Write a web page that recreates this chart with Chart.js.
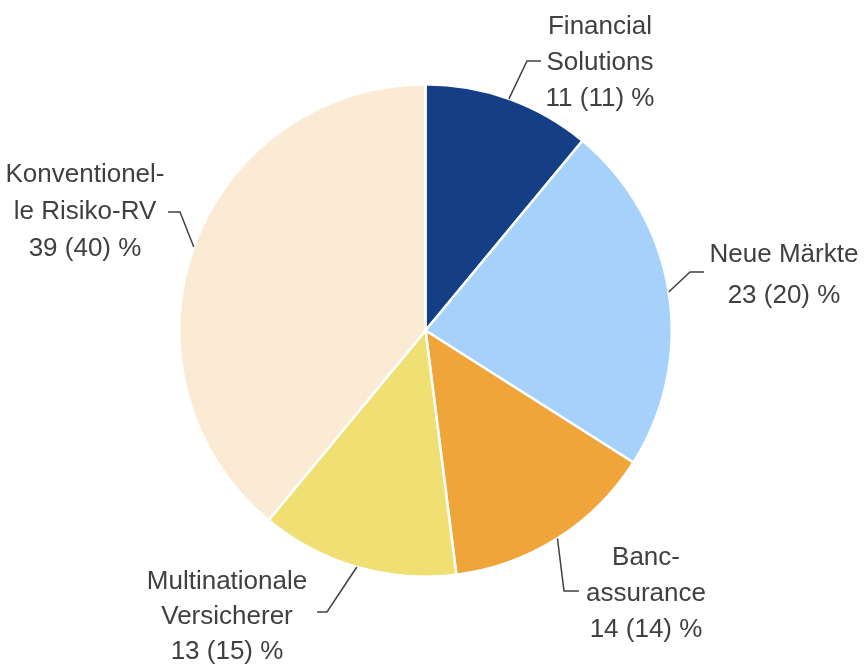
<!DOCTYPE html>
<html>
<head>
<meta charset="utf-8">
<script src="https://cdn.jsdelivr.net/npm/chart.js@4/dist/chart.umd.min.js"></script>
<style>
  html, body { margin: 0; padding: 0; background: #ffffff; }
  #wrap { width: 865px; height: 664px; }
</style>
</head>
<body>
<div id="wrap"><canvas id="pieChart" width="865" height="664"></canvas></div>
<script>
// data
const categories = ['Financial Solutions', 'Neue Märkte', 'Bancassurance', 'Multinationale Versicherer', 'Konventionelle Risiko-RV'];
const shares = [11, 23, 14, 13, 39];
const priorShares = [11, 20, 14, 15, 40];
const labelLines = [
    ['Financial', 'Solutions'],
    ['Neue Märkte'],
    ['Banc-', 'assurance'],
    ['Multinationale', 'Versicherer'],
    ['Konventionel-', 'le Risiko-RV']
];
const colors = ['#143f84', '#a6d1fb', '#f0a53a', '#f0df72', '#fbebd5'];

// label layout: kink of the leader, end of horizontal, text centre x, first line y, line step
const labelLayout = [
    { kx: 527, ky: 61, ex: 541, tx: 600, ty: 27, step: 36 },
    { kx: 690, ky: 272, ex: 704, tx: 784, ty: 255, step: 41 },
    { kx: 564, ky: 591, ex: 579, tx: 646, ty: 558, step: 36 },
    { kx: 327, ky: 612, ex: 317, tx: 227, ty: 582, step: 35 },
    { kx: 180, ky: 212, ex: 168, tx: 85, ty: 175, step: 37 }
];

const leaderLabels = {
    id: 'leaderLabels',
    afterDraw(chart) {
        const ctx = chart.ctx;
        const arcs = chart.getDatasetMeta(0).data;
        ctx.save();
        arcs.forEach(function(arc, i) {
            const p = arc.getProps(['x', 'y', 'startAngle', 'endAngle', 'outerRadius'], true);
            const mid = (p.startAngle + p.endAngle) / 2;
            const sx = p.x + Math.cos(mid) * p.outerRadius;
            const sy = p.y + Math.sin(mid) * p.outerRadius;
            const l = labelLayout[i];
            ctx.strokeStyle = '#404040';
            ctx.lineWidth = 1.5;
            ctx.beginPath();
            ctx.moveTo(sx, sy);
            ctx.lineTo(l.kx, l.ky);
            ctx.lineTo(l.ex, l.ky);
            ctx.stroke();

            ctx.fillStyle = '#404040';
            ctx.font = '26px "Liberation Sans", Arial, sans-serif';
            ctx.textAlign = 'center';
            ctx.textBaseline = 'middle';
            const lines = labelLines[i].concat([shares[i] + ' (' + priorShares[i] + ') %']);
            lines.forEach(function(t, j) {
                ctx.fillText(t, l.tx, l.ty + j * l.step);
            });
        });
        ctx.restore();
    }
};

new Chart(document.getElementById('pieChart'), {
    type: 'pie',
    data: {
        labels: categories,
        datasets: [{
            data: shares,
            backgroundColor: colors,
            borderColor: '#ffffff',
            borderWidth: 2.5
        }]
    },
    options: {
        responsive: false,
        animation: false,
        layout: {
            padding: { left: 178, right: 192, top: 83, bottom: 86 }
        },
        plugins: {
            legend: { display: false },
            tooltip: { enabled: false }
        }
    },
    plugins: [leaderLabels]
});
</script>
</body>
</html>
